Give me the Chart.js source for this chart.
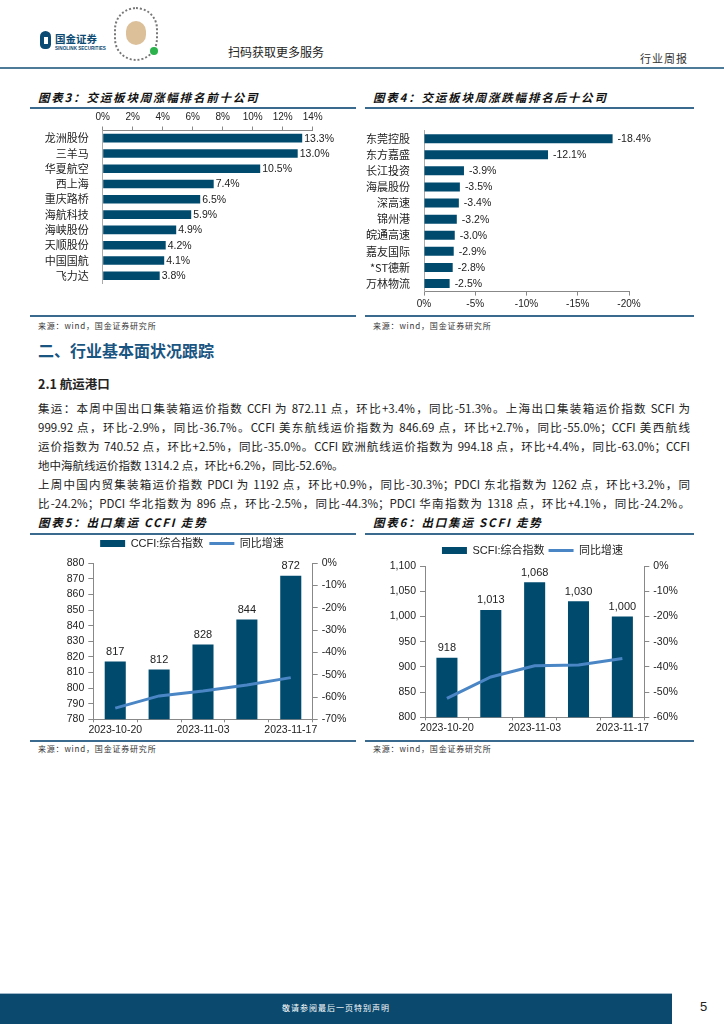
<!DOCTYPE html>
<html>
<head>
<meta charset="utf-8">
<script src="https://cdn.jsdelivr.net/npm/chart.js@4/dist/chart.umd.min.js"></script>
<style>
  body { margin: 0; background: #fff; font-family: "Noto Sans CJK SC", "Liberation Sans", sans-serif; color: #222; }
  #page { position: relative; width: 724px; height: 1024px; overflow: hidden; }
  .abs { position: absolute; white-space: nowrap; }
  .rule { position: absolute; height: 1.5px; background: #3a6b8e; }
  .title { font-size: 11.5px; font-weight: bold; font-style: italic; letter-spacing: 1.8px; line-height: 16px; color: #111; }
  .src { font-size: 8px; letter-spacing: 0.8px; line-height: 10px; color: #333; }
  .para { position: absolute; left: 38px; width: 652px; font-size: 11.5px; line-height: 16px; white-space: nowrap; text-align: justify; text-align-last: justify; color: #222; }
  canvas { position: absolute; }
</style>
</head>
<body>
<div id="page">
  <!-- header -->
  <div class="abs" style="left:40px;top:31px;width:11px;height:18px;background:#0b4a72;border-radius:6px 6px 5px 5px;"></div>
  <div class="abs" style="left:44px;top:37px;width:4px;height:7px;background:#fff;"></div>
  <div class="abs" style="left:55px;top:32px;font-size:10.5px;font-weight:bold;line-height:13px;color:#0b4a72;">国金证券</div>
  <div class="abs" style="left:55px;top:46px;font-size:4.6px;font-weight:bold;line-height:6px;color:#0b4a72;font-family:'Liberation Sans';">SINOLINK SECURITIES</div>
  <div class="abs" style="left:114px;top:7px;width:44px;height:54px;border-radius:22px;border:2px dotted #777;box-sizing:border-box;"></div>
  <div class="abs" style="left:126px;top:21px;width:20px;height:24px;border-radius:10px;background:#dcc09a;"></div>
  <div class="abs" style="left:150px;top:47px;width:8px;height:8px;border-radius:4px;background:#2bb24c;"></div>
  <div class="abs" style="left:228px;top:44px;font-size:12px;line-height:16px;">扫码获取更多服务</div>
  <div class="abs" style="left:640px;top:51px;font-size:11px;line-height:14px;letter-spacing:1px;color:#333;">行业周报</div>
  <div class="abs" style="left:0;top:67px;width:724px;height:2px;background:#4e7b98;"></div>

  <!-- chart 3 / 4 titles -->
  <div class="abs title" style="left:38px;top:89px;">图表3：交运板块周涨幅排名前十公司</div>
  <div class="rule" style="left:30px;top:107px;width:326px;"></div>
  <div class="abs title" style="left:373px;top:89px;">图表4：交运板块周涨跌幅排名后十公司</div>
  <div class="rule" style="left:365px;top:107px;width:329px;"></div>
  <canvas id="c3" width="330" height="186" style="left:30px;top:110px;"></canvas>
  <canvas id="c4" width="335" height="194" style="left:365px;top:118px;"></canvas>
  <div class="rule" style="left:30px;top:315px;width:326px;"></div>
  <div class="rule" style="left:365px;top:315px;width:329px;"></div>
  <div class="abs src" style="left:38px;top:321px;">来源：wind，国金证券研究所</div>
  <div class="abs src" style="left:373px;top:321px;">来源：wind，国金证券研究所</div>

  <!-- section text -->
  <div class="abs" style="left:38px;top:340px;font-size:16px;font-weight:bold;line-height:20px;color:#1a5582;">二、行业基本面状况跟踪</div>
  <div class="abs" style="left:38px;top:376px;font-size:12.5px;font-weight:bold;line-height:16px;">2.1 航运港口</div>
  <div class="para" style="top:400px;">集运：本周中国出口集装箱运价指数 CCFI 为 872.11 点，环比+3.4%，同比-51.3%。上海出口集装箱运价指数 SCFI 为</div>
  <div class="para" style="top:419px;">999.92 点，环比-2.9%，同比-36.7%。CCFI 美东航线运价指数为 846.69 点，环比+2.7%，同比-55.0%；CCFI 美西航线</div>
  <div class="para" style="top:438px;">运价指数为 740.52 点，环比+2.5%，同比-35.0%。CCFI 欧洲航线运价指数为 994.18 点，环比+4.4%，同比-63.0%；CCFI</div>
  <div class="para" style="top:457px;text-align:left;text-align-last:left;">地中海航线运价指数 1314.2 点，环比+6.2%，同比-52.6%。</div>
  <div class="para" style="top:476px;">上周中国内贸集装箱运价指数 PDCI 为 1192 点，环比+0.9%，同比-30.3%；PDCI 东北指数为 1262 点，环比+3.2%，同</div>
  <div class="para" style="top:495px;">比-24.2%；PDCI 华北指数为 896 点，环比-2.5%，同比-44.3%；PDCI 华南指数为 1318 点，环比+4.1%，同比-24.2%。</div>

  <!-- chart 5 / 6 -->
  <div class="abs title" style="left:38px;top:514px;">图表5：出口集运 CCFI 走势</div>
  <div class="rule" style="left:30px;top:533px;width:326px;"></div>
  <div class="abs title" style="left:373px;top:514px;">图表6：出口集运 SCFI 走势</div>
  <div class="rule" style="left:365px;top:533px;width:329px;"></div>
  <canvas id="c5" width="328" height="208" style="left:28px;top:532px;"></canvas>
  <canvas id="c6" width="335" height="199" style="left:365px;top:541px;"></canvas>
  <div class="rule" style="left:30px;top:740px;width:326px;"></div>
  <div class="rule" style="left:365px;top:740px;width:329px;"></div>
  <div class="abs src" style="left:38px;top:744px;">来源：wind，国金证券研究所</div>
  <div class="abs src" style="left:373px;top:744px;">来源：wind，国金证券研究所</div>

  <!-- footer -->
  <div class="abs" style="left:0;top:993px;width:672px;height:31px;background:#0b4a6e;border-top:1px solid #9fb7c8;"></div>
  <div class="abs" style="left:0;top:1002px;width:672px;text-align:center;font-size:8px;letter-spacing:1px;line-height:12px;color:#fff;">敬请参阅最后一页特别声明</div>
  <div class="abs" style="left:700px;top:999px;font-size:13px;line-height:16px;font-family:'Liberation Sans';color:#222;">5</div>
</div>

<script>
// top 10 gainers
const topNames = ['龙洲股份', '三羊马', '华夏航空', '西上海', '重庆路桥', '海航科技', '海峡股份', '天顺股份', '中国国航', '飞力达'];
const topValues = [13.3, 13.0, 10.5, 7.4, 6.5, 5.9, 4.9, 4.2, 4.1, 3.8];
// bottom 10
const lowNames = ['东莞控股', '东方嘉盛', '长江投资', '海晨股份', '深高速', '锦州港', '皖通高速', '嘉友国际', '*ST德新', '万林物流'];
const lowValues = [-18.4, -12.1, -3.9, -3.5, -3.4, -3.2, -3.0, -2.9, -2.8, -2.5];
// weekly freight indices
const weeks = ['2023-10-20', '2023-10-27', '2023-11-03', '2023-11-10', '2023-11-17'];
const ccfiIndex = [817, 812, 828, 844, 872];
const ccfiYoY = [-65.0, -59.5, -57.3, -54.6, -51.3];
const scfiIndex = [918, 1013, 1068, 1030, 1000];
const scfiYoY = [-52.5, -44.0, -39.6, -39.3, -36.7];

const barColor = '#004a6e';
const lineColor = '#4a86c5';
const axisColor = '#888';
const numFont = "'Liberation Sans', 'Noto Sans CJK SC', sans-serif";

Chart.defaults.font.family = numFont;
Chart.defaults.color = '#222';

//draws the value next to / above each bar of dataset 0
const valueLabels = {
  id: 'valueLabels',
  afterDatasetsDraw(chart, args, opts) {
    if (!opts.format) return;
    const ctx = chart.ctx;
    const vals = chart.data.datasets[0].data;
    ctx.save();
    ctx.font = opts.font;
    ctx.fillStyle = '#222';
    chart.getDatasetMeta(0).data.forEach((bar, i) => {
      const text = opts.format(vals[i]);
      if (opts.side === 'right') {
        ctx.textAlign = 'left';
        ctx.textBaseline = 'middle';
        ctx.fillText(text, bar.x + opts.offset, bar.y + 0.5);
      } else {
        ctx.textAlign = 'center';
        ctx.textBaseline = 'bottom';
        ctx.fillText(text, bar.x, bar.y - opts.offset);
      }
    });
    ctx.restore();
  }
};

function rankChart(id, names, values, opts) {
  return new Chart(document.getElementById(id), {
    type: 'bar',
    data: {
      labels: names,
      datasets: [{ data: values, backgroundColor: barColor, barPercentage: 0.56, categoryPercentage: 1 }]
    },
    options: {
      indexAxis: 'y',
      responsive: false,
      animation: false,
      layout: { padding: opts.padding },
      plugins: {
        legend: { display: false },
        tooltip: { enabled: false },
        valueLabels: { side: 'right', offset: opts.labelGap, font: '10.5px ' + numFont, format: v => v.toFixed(1) + '%' }
      },
      scales: {
        x: {
          position: opts.xPos,
          min: opts.min, max: opts.max, reverse: opts.reverse,
          ticks: { stepSize: opts.step, callback: v => v + '%', padding: 3, font: { size: 10 }, color: '#222', maxRotation: 0 },
          grid: { drawOnChartArea: false, tickLength: 4, color: axisColor },
          border: { color: axisColor },
          afterFit: s => { s.height = opts.xHeight; }
        },
        y: {
          ticks: { autoSkip: false, padding: 6, font: { size: 11, family: "'Noto Sans CJK SC', sans-serif" }, color: '#222' },
          grid: { display: false },
          border: { color: '#aaa' },
          afterFit: s => { s.width = opts.yWidth; }
        }
      }
    },
    plugins: [valueLabels]
  });
}

rankChart('c3', topNames, topValues, {
  padding: { left: 0, right: 47.3, top: 0, bottom: 0 },
  xPos: 'top', min: 0, max: 14, step: 2, reverse: false,
  xHeight: 20.5, yWidth: 72.7, labelGap: 2
});

rankChart('c4', lowNames, lowValues, {
  padding: { left: 0, right: 71, top: 8, bottom: 0 },
  xPos: 'bottom', min: -20, max: 0, step: 5, reverse: true,
  xHeight: 20.4, yWidth: 59, labelGap: 5
});

function freightChart(id, name, index, yoy, opts) {
  return new Chart(document.getElementById(id), {
    type: 'bar',
    data: {
      labels: weeks,
      datasets: [
        { type: 'bar', label: name, data: index, backgroundColor: barColor, yAxisID: 'y',
          barPercentage: 0.48, categoryPercentage: 1, pointStyle: 'rect', order: 2 },
        { type: 'line', label: '同比增速', data: yoy, borderColor: lineColor, backgroundColor: lineColor,
          borderWidth: 3, pointRadius: 0, tension: 0, yAxisID: 'y1', pointStyle: 'line', order: 1 }
      ]
    },
    options: {
      responsive: false,
      animation: false,
      layout: { padding: 0 },
      plugins: {
        legend: {
          position: 'top',
          labels: {
            usePointStyle: true, pointStyleWidth: 25, boxHeight: 7, padding: opts.legendPad,
            font: { size: 11 }, color: '#222',
            sort: (a, b) => a.datasetIndex - b.datasetIndex
          }
        },
        tooltip: { enabled: false },
        valueLabels: { side: 'top', offset: 4, font: '11px ' + numFont, format: v => v.toLocaleString('en-US') }
      },
      scales: {
        x: {
          ticks: { autoSkip: false, maxRotation: 0, padding: 2, font: { size: 10.5 }, color: '#222',
            callback: (v, i) => (i % 2 === 0 ? weeks[i] : '') },
          grid: { drawOnChartArea: false, offset: true, tickLength: 3, color: axisColor },
          border: { color: axisColor },
          afterFit: s => { s.height = opts.xHeight; }
        },
        gap: {
          type: 'category', position: 'top',
          ticks: { display: false }, grid: { display: false }, border: { display: false },
          afterFit: s => { s.height = opts.gap; }
        },
        y: {
          position: 'left', min: opts.min, max: opts.max,
          ticks: { stepSize: opts.step, padding: 4, font: { size: 10.5 }, color: '#222', callback: v => v.toLocaleString('en-US') },
          grid: { drawOnChartArea: false, tickLength: 5, color: axisColor },
          border: { color: axisColor },
          afterFit: s => { s.width = opts.leftW; }
        },
        y1: {
          position: 'right', min: opts.min1, max: 0,
          ticks: { stepSize: 10, padding: 4, font: { size: 10.5 }, color: '#222', callback: v => v + '%' },
          grid: { drawOnChartArea: false, tickLength: 5, color: axisColor },
          border: { color: axisColor },
          afterFit: s => { s.width = opts.rightW; }
        }
      }
    },
    plugins: [valueLabels]
  });
}

freightChart('c5', 'CCFI:综合指数', ccfiIndex, ccfiYoY, {
  min: 780, max: 880, step: 10, min1: -70,
  legendPad: 6, gap: 4.3, xHeight: 20.7, leftW: 65.3, rightW: 43.3
});

freightChart('c6', 'SCFI:综合指数', scfiIndex, scfiYoY, {
  min: 800, max: 1100, step: 50, min1: -60,
  legendPad: 4, gap: 0, xHeight: 22.7, leftW: 60, rightW: 55.7
});
</script>
</body>
</html>
